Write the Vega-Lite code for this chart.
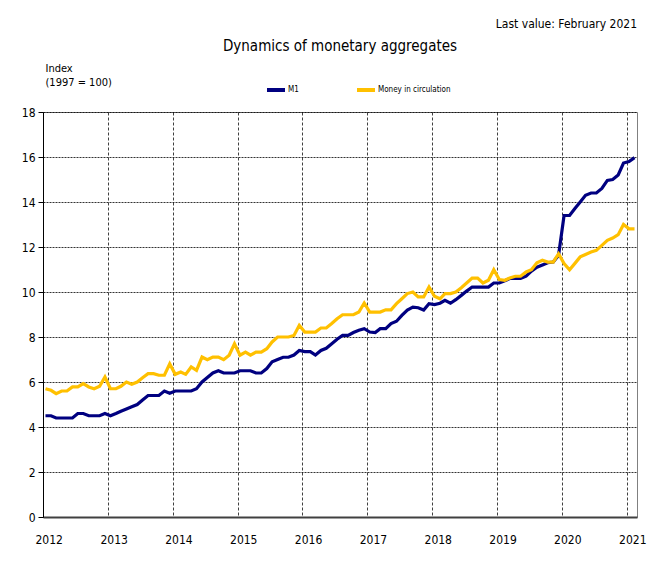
{
  "$schema": "https://vega.github.io/schema/vega-lite/v6.json",
  "width": 594,
  "height": 405,
  "autosize": {"type": "none"},
  "padding": {"left": 43, "top": 112, "right": 14, "bottom": 48},
  "background": "white",
  "config": {
    "font": "DejaVu Sans Condensed, Liberation Sans, sans-serif",
    "view": {"stroke": "#808080", "strokeWidth": 1}
  },
  "title": {
    "text": "Dynamics of monetary aggregates",
    "fontSize": 15,
    "fontWeight": "normal",
    "color": "#000000",
    "anchor": "middle",
    "dy": 40
  },
  "data": {
    "values": [
      {"date":"2012-01-15","M1":4.5,"Money in circulation":5.7},
      {"date":"2012-02-15","M1":4.5,"Money in circulation":5.63},
      {"date":"2012-03-15","M1":4.4,"Money in circulation":5.48},
      {"date":"2012-04-15","M1":4.4,"Money in circulation":5.6},
      {"date":"2012-05-15","M1":4.4,"Money in circulation":5.6},
      {"date":"2012-06-15","M1":4.4,"Money in circulation":5.78},
      {"date":"2012-07-15","M1":4.6,"Money in circulation":5.78},
      {"date":"2012-08-15","M1":4.6,"Money in circulation":5.93},
      {"date":"2012-09-15","M1":4.5,"Money in circulation":5.78},
      {"date":"2012-10-15","M1":4.5,"Money in circulation":5.7},
      {"date":"2012-11-15","M1":4.5,"Money in circulation":5.81},
      {"date":"2012-12-15","M1":4.6,"Money in circulation":6.22},
      {"date":"2013-01-15","M1":4.5,"Money in circulation":5.7},
      {"date":"2013-02-15","M1":4.6,"Money in circulation":5.7},
      {"date":"2013-03-15","M1":4.7,"Money in circulation":5.81},
      {"date":"2013-04-15","M1":4.8,"Money in circulation":6.0},
      {"date":"2013-05-15","M1":4.9,"Money in circulation":5.9},
      {"date":"2013-06-15","M1":5.0,"Money in circulation":6.0},
      {"date":"2013-07-15","M1":5.2,"Money in circulation":6.19},
      {"date":"2013-08-15","M1":5.4,"Money in circulation":6.37},
      {"date":"2013-09-15","M1":5.4,"Money in circulation":6.37},
      {"date":"2013-10-15","M1":5.4,"Money in circulation":6.3},
      {"date":"2013-11-15","M1":5.6,"Money in circulation":6.3},
      {"date":"2013-12-15","M1":5.5,"Money in circulation":6.81},
      {"date":"2014-01-15","M1":5.6,"Money in circulation":6.34},
      {"date":"2014-02-15","M1":5.6,"Money in circulation":6.44},
      {"date":"2014-03-15","M1":5.6,"Money in circulation":6.34},
      {"date":"2014-04-15","M1":5.6,"Money in circulation":6.67},
      {"date":"2014-05-15","M1":5.7,"Money in circulation":6.52},
      {"date":"2014-06-15","M1":6.0,"Money in circulation":7.11},
      {"date":"2014-07-15","M1":6.2,"Money in circulation":6.99},
      {"date":"2014-08-15","M1":6.4,"Money in circulation":7.11},
      {"date":"2014-09-15","M1":6.5,"Money in circulation":7.11},
      {"date":"2014-10-15","M1":6.4,"Money in circulation":6.99},
      {"date":"2014-11-15","M1":6.4,"Money in circulation":7.19},
      {"date":"2014-12-15","M1":6.4,"Money in circulation":7.7},
      {"date":"2015-01-15","M1":6.5,"Money in circulation":7.19},
      {"date":"2015-02-15","M1":6.5,"Money in circulation":7.33},
      {"date":"2015-03-15","M1":6.5,"Money in circulation":7.19},
      {"date":"2015-04-15","M1":6.4,"Money in circulation":7.33},
      {"date":"2015-05-15","M1":6.4,"Money in circulation":7.33},
      {"date":"2015-06-15","M1":6.6,"Money in circulation":7.48},
      {"date":"2015-07-15","M1":6.9,"Money in circulation":7.78},
      {"date":"2015-08-15","M1":7.0,"Money in circulation":8.0},
      {"date":"2015-09-15","M1":7.1,"Money in circulation":8.0},
      {"date":"2015-10-15","M1":7.1,"Money in circulation":8.0},
      {"date":"2015-11-15","M1":7.2,"Money in circulation":8.07},
      {"date":"2015-12-15","M1":7.4,"Money in circulation":8.52},
      {"date":"2016-01-15","M1":7.35,"Money in circulation":8.22},
      {"date":"2016-02-15","M1":7.35,"Money in circulation":8.22},
      {"date":"2016-03-15","M1":7.2,"Money in circulation":8.22},
      {"date":"2016-04-15","M1":7.4,"Money in circulation":8.4},
      {"date":"2016-05-15","M1":7.5,"Money in circulation":8.4},
      {"date":"2016-06-15","M1":7.7,"Money in circulation":8.6},
      {"date":"2016-07-15","M1":7.9,"Money in circulation":8.81},
      {"date":"2016-08-15","M1":8.07,"Money in circulation":8.99},
      {"date":"2016-09-15","M1":8.07,"Money in circulation":8.99},
      {"date":"2016-10-15","M1":8.2,"Money in circulation":8.99},
      {"date":"2016-11-15","M1":8.3,"Money in circulation":9.11},
      {"date":"2016-12-15","M1":8.37,"Money in circulation":9.51},
      {"date":"2017-01-15","M1":8.22,"Money in circulation":9.11},
      {"date":"2017-02-15","M1":8.2,"Money in circulation":9.11},
      {"date":"2017-03-15","M1":8.37,"Money in circulation":9.11},
      {"date":"2017-04-15","M1":8.37,"Money in circulation":9.21},
      {"date":"2017-05-15","M1":8.6,"Money in circulation":9.21},
      {"date":"2017-06-15","M1":8.7,"Money in circulation":9.48},
      {"date":"2017-07-15","M1":8.96,"Money in circulation":9.7},
      {"date":"2017-08-15","M1":9.2,"Money in circulation":9.93},
      {"date":"2017-09-15","M1":9.33,"Money in circulation":10.0},
      {"date":"2017-10-15","M1":9.3,"Money in circulation":9.78},
      {"date":"2017-11-15","M1":9.2,"Money in circulation":9.78},
      {"date":"2017-12-15","M1":9.48,"Money in circulation":10.22},
      {"date":"2018-01-15","M1":9.44,"Money in circulation":9.81},
      {"date":"2018-02-15","M1":9.5,"Money in circulation":9.7},
      {"date":"2018-03-15","M1":9.63,"Money in circulation":9.93},
      {"date":"2018-04-15","M1":9.5,"Money in circulation":9.93},
      {"date":"2018-05-15","M1":9.66,"Money in circulation":10.0},
      {"date":"2018-06-15","M1":9.85,"Money in circulation":10.19},
      {"date":"2018-07-15","M1":10.04,"Money in circulation":10.4},
      {"date":"2018-08-15","M1":10.22,"Money in circulation":10.62},
      {"date":"2018-09-15","M1":10.22,"Money in circulation":10.62},
      {"date":"2018-10-15","M1":10.22,"Money in circulation":10.4},
      {"date":"2018-11-15","M1":10.22,"Money in circulation":10.52},
      {"date":"2018-12-15","M1":10.4,"Money in circulation":10.99},
      {"date":"2019-01-15","M1":10.4,"Money in circulation":10.55},
      {"date":"2019-02-15","M1":10.5,"Money in circulation":10.52},
      {"date":"2019-03-15","M1":10.6,"Money in circulation":10.62},
      {"date":"2019-04-15","M1":10.6,"Money in circulation":10.7},
      {"date":"2019-05-15","M1":10.6,"Money in circulation":10.7},
      {"date":"2019-06-15","M1":10.7,"Money in circulation":10.89},
      {"date":"2019-07-15","M1":10.93,"Money in circulation":10.99},
      {"date":"2019-08-15","M1":11.1,"Money in circulation":11.3},
      {"date":"2019-09-15","M1":11.2,"Money in circulation":11.41},
      {"date":"2019-10-15","M1":11.3,"Money in circulation":11.33},
      {"date":"2019-11-15","M1":11.33,"Money in circulation":11.33},
      {"date":"2019-12-15","M1":11.63,"Money in circulation":11.7},
      {"date":"2020-01-15","M1":13.4,"Money in circulation":11.26},
      {"date":"2020-02-15","M1":13.4,"Money in circulation":10.99},
      {"date":"2020-03-15","M1":13.7,"Money in circulation":11.26},
      {"date":"2020-04-15","M1":14.0,"Money in circulation":11.56},
      {"date":"2020-05-15","M1":14.3,"Money in circulation":11.67},
      {"date":"2020-06-15","M1":14.4,"Money in circulation":11.78},
      {"date":"2020-07-15","M1":14.4,"Money in circulation":11.85},
      {"date":"2020-08-15","M1":14.6,"Money in circulation":12.07},
      {"date":"2020-09-15","M1":14.96,"Money in circulation":12.3},
      {"date":"2020-10-15","M1":15.0,"Money in circulation":12.4},
      {"date":"2020-11-15","M1":15.2,"Money in circulation":12.55},
      {"date":"2020-12-15","M1":15.73,"Money in circulation":13.0},
      {"date":"2021-01-15","M1":15.8,"Money in circulation":12.81},
      {"date":"2021-02-15","M1":15.97,"Money in circulation":12.81}
    ]
  },
  "layer": [
    {
      "transform": [{"fold": ["M1", "Money in circulation"], "as": ["series", "value"]}],
      "mark": {"type": "line", "strokeWidth": 3.2, "strokeJoin": "miter"},
      "encoding": {
        "x": {
          "field": "date",
          "type": "temporal",
          "scale": {"domain": [{"year": 2012, "month": 1, "date": 1}, {"year": 2021, "month": 3, "date": 1}]},
          "axis": {
            "title": null,
            "format": "%Y",
            "tickCount": {"interval": "year", "step": 1},
            "labelFontSize": 12,
            "labelColor": "#000000",
            "labelPadding": 17,
            "labelFlush": false,
            "labelAlign": "left",
            "labelOffset": -8,
            "ticks": false,
            "domainColor": "#404040",
            "domainWidth": 2,
            "grid": true,
            "gridColor": "#000000",
            "gridDash": [3, 2],
            "gridOpacity": 0.75
          }
        },
        "y": {
          "field": "value",
          "type": "quantitative",
          "scale": {"domain": [0, 18], "nice": false},
          "axis": {
            "title": ["Index", "(1997 = 100)"],
            "titleAngle": 0,
            "titleAlign": "left",
            "titleBaseline": "top",
            "titleX": 2,
            "titleY": -50,
            "titleFontSize": 11,
            "titleLineHeight": 14,
            "titleFontWeight": "normal",
            "titleColor": "#000000",
            "values": [0, 2, 4, 6, 8, 10, 12, 14, 16, 18],
            "labelFontSize": 12,
            "labelColor": "#000000",
            "labelPadding": 3,
            "tickSize": 5,
            "tickColor": "#000000",
            "domainColor": "#000000",
            "grid": true,
            "gridColor": "#000000",
            "gridDash": [2, 1],
            "gridOpacity": 0.8
          }
        },
        "color": {
          "field": "series",
          "type": "nominal",
          "scale": {"domain": ["M1", "Money in circulation"], "range": ["#000080", "#FFC000"]},
          "legend": {
            "title": null,
            "orient": "none",
            "legendX": 222,
            "legendY": -33,
            "direction": "horizontal",
            "symbolType": "stroke",
            "symbolSize": 324,
            "symbolStrokeWidth": 4,
            "labelFontSize": 8,
            "labelColor": "#000000",
            "labelOffset": 1,
            "columnPadding": 50
          }
        }
      }
    },
    {
      "data": {"values": [{}]},
      "mark": {"type": "text", "align": "right", "baseline": "bottom", "fontSize": 12, "dy": -81, "color": "#000000"},
      "encoding": {
        "x": {"datum": {"year": 2021, "month": 3, "date": 1}, "type": "temporal"},
        "y": {"datum": 18, "type": "quantitative"},
        "text": {"value": "Last value: February 2021"}
      }
    }
  ]
}
